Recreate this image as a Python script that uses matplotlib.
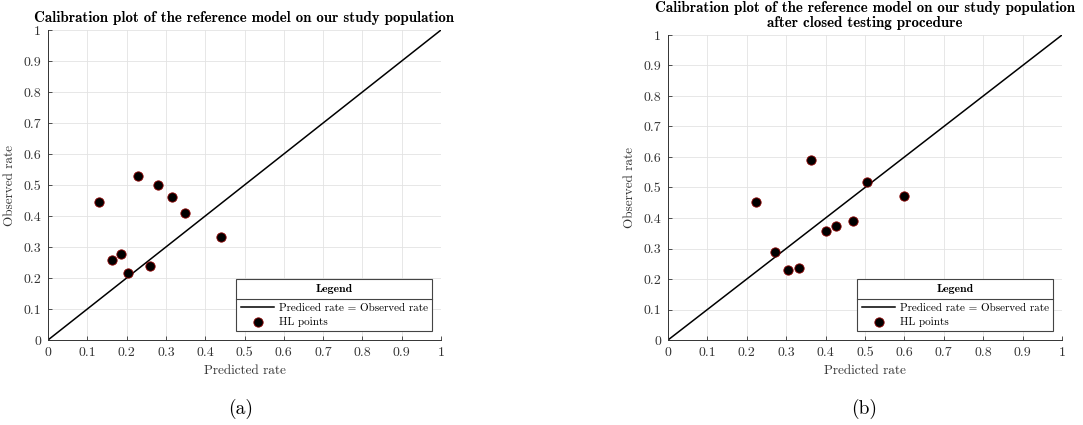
import numpy as np
import matplotlib
matplotlib.use("Agg")
import matplotlib.pyplot as plt
from matplotlib.lines import Line2D

plt.rcParams['font.family'] = 'serif'
plt.rcParams['font.serif'] = ['cmr10']
plt.rcParams['mathtext.fontset'] = 'cm'
plt.rcParams['axes.formatter.use_mathtext'] = True

# HL points, panel (a)
pred_a = [0.131, 0.229, 0.280, 0.316, 0.349, 0.440, 0.163, 0.186, 0.204, 0.259]
obs_a = [0.445, 0.530, 0.499, 0.460, 0.410, 0.333, 0.259, 0.278, 0.216, 0.239]
# HL points, panel (b)
pred_b = [0.223, 0.362, 0.506, 0.600, 0.272, 0.304, 0.332, 0.401, 0.427, 0.469]
obs_b = [0.454, 0.589, 0.518, 0.472, 0.289, 0.228, 0.235, 0.359, 0.373, 0.389]

ticks = [0, 0.1, 0.2, 0.3, 0.4, 0.5, 0.6, 0.7, 0.8, 0.9, 1]
tick_labels = ['0', '0.1', '0.2', '0.3', '0.4', '0.5', '0.6', '0.7', '0.8', '0.9', '1']

title_a = 'Calibration plot of the reference model on our study population'
title_b = ('Calibration plot of the reference model on our study population\n'
           'after closed testing procedure')

axc = '#333333'

fig = plt.figure(figsize=(10.83, 4.25), dpi=100)
ax1 = fig.add_axes([48 / 1083, 85 / 425, 393 / 1083, 310 / 425])
ax2 = fig.add_axes([668 / 1083, 85 / 425, 394 / 1083, 305 / 425])


def panel(ax, px, py, title):
    ax.plot([0, 1], [0, 1], color='black', lw=1.1, label='Prediced rate = Observed rate')
    ax.scatter(px, py, s=45, color='black', edgecolors='#8b0000', linewidths=0.6,
               label='HL points', zorder=3)
    ax.set_xlim(0, 1)
    ax.set_ylim(0, 1)
    ax.set_xticks(ticks)
    ax.set_yticks(ticks)
    ax.set_xticklabels(tick_labels)
    ax.set_yticklabels(tick_labels)
    ax.grid(True, color='#e3e3e3', lw=0.6)
    ax.set_axisbelow(True)
    ax.spines['top'].set_visible(False)
    ax.spines['right'].set_visible(False)
    for s in ['left', 'bottom']:
        ax.spines[s].set_color(axc)
        ax.spines[s].set_linewidth(0.7)
    ax.tick_params(direction='in', length=3, width=0.6, colors=axc, labelsize=10, pad=5)
    ax.set_xlabel('Predicted rate', fontsize=9.5, color=axc, labelpad=4)
    ax.set_ylabel('Observed rate', fontsize=9.5, color=axc, labelpad=5)
    ax.set_title(title, fontsize=10.8, fontfamily='cmb10', pad=6, linespacing=1.05)
    leg = ax.legend(loc='lower right', title='Legend', fontsize=8, frameon=True,
                    fancybox=False, edgecolor='#444444', framealpha=1,
                    borderaxespad=0.8, handlelength=3.0, handletextpad=0.4,
                    borderpad=0.4, labelspacing=0.3)
    leg.get_title().set_fontfamily('cmb10')
    leg.get_title().set_fontsize(8.5)
    leg.get_frame().set_linewidth(0.8)
    # more room between title row and entries
    leg._legend_box.sep = 7
    return leg


leg1 = panel(ax1, pred_a, obs_a, title_a)
leg2 = panel(ax2, pred_b, obs_b, title_b)

# separator line under legend title
fig.canvas.draw()
r = fig.canvas.get_renderer()
inv = fig.transFigure.inverted()
for leg in [leg1, leg2]:
    fb = leg.get_frame().get_window_extent(r)
    tb = leg.get_title().get_window_extent(r)
    t0 = leg.get_texts()[0].get_window_extent(r)
    yline = (tb.y0 + t0.y1) / 2
    x0, y0 = inv.transform((fb.x0, yline))
    x1, _ = inv.transform((fb.x1, yline))
    fig.add_artist(Line2D([x0, x1], [y0, y0], color='#444444', lw=0.8))

fig.text(241 / 1083, 1 - 409 / 425, '(a)', fontsize=14, ha='center', va='center')
fig.text(864 / 1083, 1 - 409 / 425, '(b)', fontsize=14, ha='center', va='center')

fig.savefig('out.png', dpi=100)
